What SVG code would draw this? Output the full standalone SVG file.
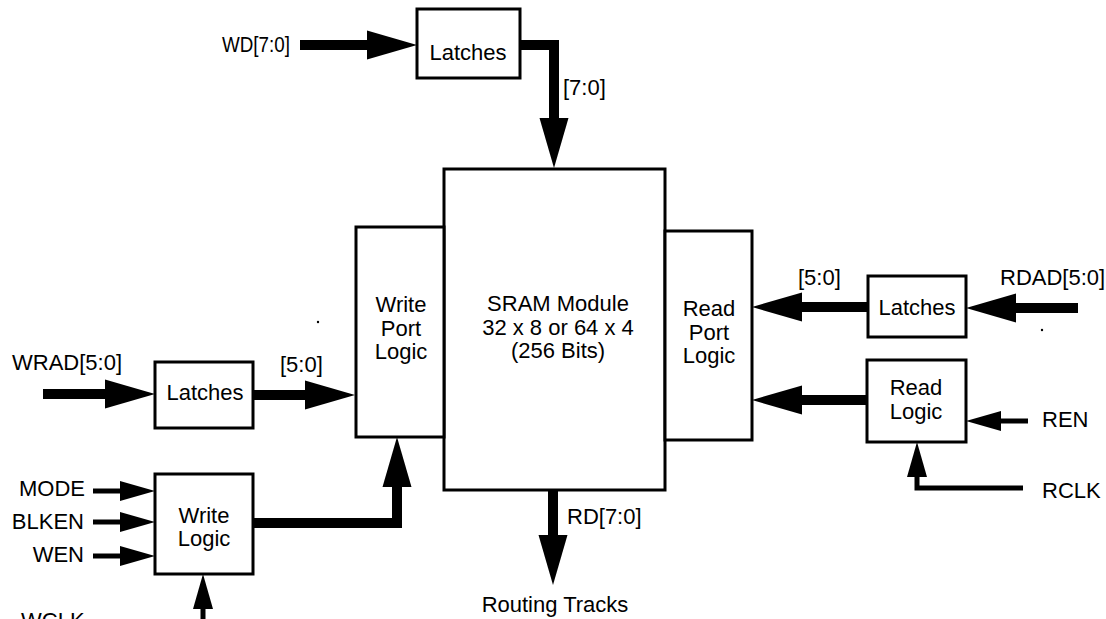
<svg xmlns="http://www.w3.org/2000/svg" width="1106" height="619" viewBox="0 0 1106 619">
<style>
.box{fill:#fff;stroke:#000;stroke-width:3}
.t{font-family:"Liberation Sans",Arial,Helvetica,sans-serif;font-size:22px;fill:#000}
.c{text-anchor:middle}
.e{text-anchor:end}
.thick{fill:none;stroke:#000;stroke-width:10;stroke-linejoin:miter;stroke-linecap:butt;marker-end:url(#ah)}
.thin{fill:none;stroke:#000;stroke-width:5;stroke-linejoin:miter;stroke-linecap:butt;marker-end:url(#as)}
</style>
<defs>
<marker id="ah" markerUnits="userSpaceOnUse" markerWidth="50" markerHeight="30" viewBox="0 -15 50 30" refX="0" refY="0" orient="auto"><path d="M0,-14.5 L50,0 L0,14.5 Z" fill="#000"/></marker>
<marker id="as" markerUnits="userSpaceOnUse" markerWidth="35" markerHeight="22" viewBox="0 -11 35 22" refX="0" refY="0" orient="auto"><path d="M0,-10 L35,0 L0,10 Z" fill="#000"/></marker>
</defs>
<rect width="1106" height="619" fill="#fff"/>

<g id="connectors">
<path class="thick" d="M300,45 H367"/>
<path class="thick" d="M520,45 H554 V118"/>
<path class="thick" d="M43,394 H105"/>
<path class="thick" d="M253,395 H305"/>
<path class="thick" d="M253,523 H397 V487"/>
<path class="thin" d="M93,491 H120"/>
<path class="thin" d="M93,522 H120"/>
<path class="thin" d="M93,556 H120"/>
<path class="thin" d="M203,625 V609"/>
<path class="thick" d="M553,490 V535"/>
<path class="thick" d="M1078,308 H1016"/>
<path class="thick" d="M868,307 H802"/>
<path class="thick" d="M867,400 H802"/>
<path class="thin" d="M1028,421 H1001"/>
<path class="thin" d="M1023,488 H917 V477"/>
</g>

<g id="latches-wd">
<rect class="box" x="417" y="9" width="103" height="69"/>
<text class="t c" x="468" y="60">Latches</text>
</g>

<g id="sram">
<rect class="box" x="444" y="169" width="221" height="321"/>
<text class="t c" x="558" y="311">SRAM Module</text>
<text class="t c" x="558" y="335">32 x 8 or 64 x 4</text>
<text class="t c" x="558" y="358">(256 Bits)</text>
</g>

<g id="write-port-logic">
<rect class="box" x="356" y="227" width="88" height="210"/>
<text class="t c" x="401" y="312">Write</text>
<text class="t c" x="401" y="336">Port</text>
<text class="t c" x="401" y="359">Logic</text>
</g>

<g id="read-port-logic">
<rect class="box" x="665" y="231" width="87" height="209"/>
<text class="t c" x="709" y="316">Read</text>
<text class="t c" x="709" y="340">Port</text>
<text class="t c" x="709" y="363">Logic</text>
</g>

<g id="latches-wrad">
<rect class="box" x="155" y="362" width="98" height="66"/>
<text class="t c" x="205" y="400">Latches</text>
</g>

<g id="write-logic">
<rect class="box" x="155" y="474" width="98" height="100"/>
<text class="t c" x="204" y="523">Write</text>
<text class="t c" x="204" y="546">Logic</text>
</g>

<g id="latches-rdad">
<rect class="box" x="868" y="276" width="98" height="61"/>
<text class="t c" x="917" y="315">Latches</text>
</g>

<g id="read-logic">
<rect class="box" x="867" y="360" width="99" height="82"/>
<text class="t c" x="916" y="395">Read</text>
<text class="t c" x="916" y="419">Logic</text>
</g>

<g id="labels">
<text class="t" x="222" y="52" textLength="68" lengthAdjust="spacingAndGlyphs">WD[7:0]</text>
<text class="t" x="563" y="95">[7:0]</text>
<text class="t" x="12" y="370">WRAD[5:0]</text>
<text class="t" x="280" y="372">[5:0]</text>
<text class="t" x="798" y="285">[5:0]</text>
<text class="t" x="1000" y="285">RDAD[5:0]</text>
<text class="t" x="1042" y="427">REN</text>
<text class="t" x="1042" y="498">RCLK</text>
<text class="t e" x="85" y="496">MODE</text>
<text class="t e" x="84" y="529">BLKEN</text>
<text class="t e" x="84" y="562">WEN</text>
<text class="t" x="21" y="628">WCLK</text>
<text class="t" x="567" y="524">RD[7:0]</text>
<text class="t c" x="555" y="612">Routing Tracks</text>
</g>
<circle cx="318" cy="322" r="1.2" fill="#000"/>
<circle cx="1042" cy="330" r="1.2" fill="#000"/>
</svg>
